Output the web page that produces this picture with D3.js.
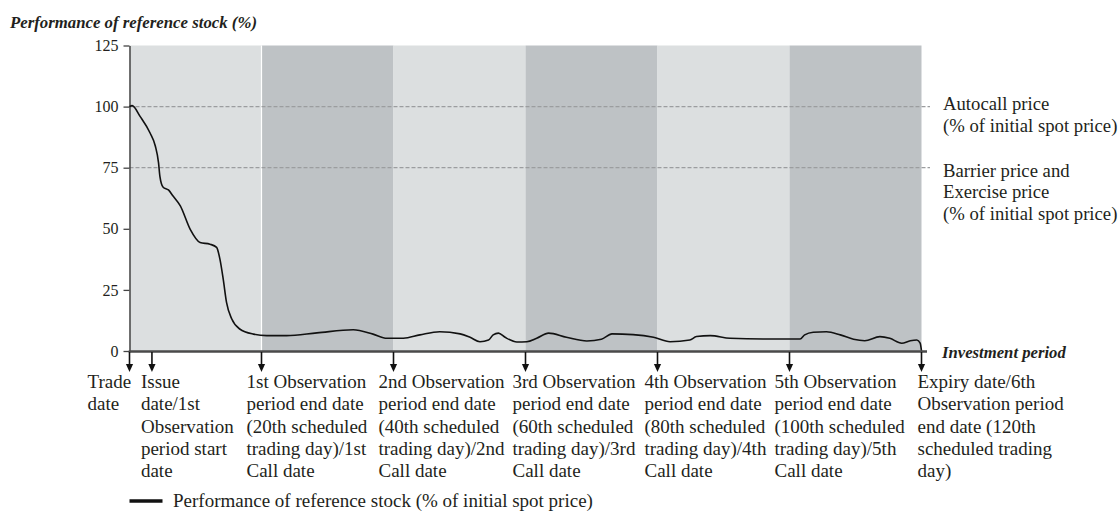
<!DOCTYPE html>
<html>
<head>
<meta charset="utf-8">
<script src="https://cdn.jsdelivr.net/npm/d3@7"></script>
<style>
  body { margin: 0; background: #fff; }
  svg { display: block; font-family: "Liberation Serif", "Times New Roman", serif; }
  svg text { font-family: "Liberation Serif", "Times New Roman", serif; }
</style>
</head>
<body>
<script>
// trading days of the events on the time axis
let eventDays = [0, 3.4, 20, 40, 60, 80, 100, 120];
let eventLabels = [
  ["Trade", "date"],
  ["Issue", "date/1st", "Observation", "period start", "date"],
  ["1st Observation", "period end date", "(20th scheduled", "trading day)/1st", "Call date"],
  ["2nd Observation", "period end date", "(40th scheduled", "trading day)/2nd", "Call date"],
  ["3rd Observation", "period end date", "(60th scheduled", "trading day)/3rd", "Call date"],
  ["4th Observation", "period end date", "(80th scheduled", "trading day)/4th", "Call date"],
  ["5th Observation", "period end date", "(100th scheduled", "trading day)/5th", "Call date"],
  ["Expiry date/6th", "Observation period", "end date (120th", "scheduled trading", "day)"]
];

// observation periods (shaded bands)
let periodStarts = [0, 20, 40, 60, 80, 100];
let periodEnds = [20, 40, 60, 80, 100, 120];
let periodShade = ["light", "dark", "light", "dark", "light", "dark"];

// reference levels
let levelValues = [100, 75];
let levelLabels = [
  ["Autocall price", "(% of initial spot price)"],
  ["Barrier price and", "Exercise price", "(% of initial spot price)"]
];

let yTicks = [0, 25, 50, 75, 100, 125];

// performance of reference stock (% of initial spot)
let perfDays = [0, 0.4, 1.6, 3.1, 3.9, 4.4, 4.6, 5.1, 5.9, 6.6, 7.7, 9.2, 10.7, 12.2, 13.2, 13.7, 14.2, 14.7,
  15.5, 16.7, 18.8, 20.8, 23.8, 28.4, 33.9, 36.9, 39.0, 41.5, 44.0, 47.0, 50.1, 51.6, 53.1, 54.4, 55.1,
  55.9, 56.9, 58.7, 60.2, 61.7, 63.5, 66.2, 69.3, 71.5, 73.1, 76.3, 79.4, 81.9, 84.9, 85.9, 88.0, 91.0,
  96.0, 101.6, 102.3, 103.6, 105.6, 107.7, 109.7, 111.4, 113.7, 115.2, 117.0, 118.3, 119.3, 119.8, 120];
let perfValues = [100, 100.4, 96, 89.3, 84, 77, 71.6, 67, 65.9, 63.4, 59.4, 49.8, 44.4, 43.7, 42.4, 37.6, 29.4, 19.9,
  13.1, 9, 6.9, 6.3, 6.3, 7.4, 8.7, 6.9, 5.2, 5.2, 6.6, 7.9, 7.0, 5.6, 3.8, 4.5, 6.6,
  7.3, 5.6, 3.7, 3.8, 5.2, 7.3, 5.6, 4.1, 4.8, 7.0, 6.7, 5.6, 3.8, 4.5, 5.9, 6.3, 5.2,
  4.9, 4.9, 6.6, 7.7, 7.9, 6.6, 4.8, 4.2, 5.9, 5.2, 3.2, 4.2, 4.5, 3.2, 0];

let width = 1119,
  height = 511;

let x = d3.scaleLinear().domain([0, 120]).range([129.5, 921.5]);
let y = d3.scaleLinear().domain([0, 125]).range([351, 45.5]);

let colors = { light: "#dcdfe0", dark: "#bec2c5" };
let ink = "#231f20";

let svg = d3.select("body").append("svg")
  .attr("width", width)
  .attr("height", height);

// title
svg.append("text")
  .attr("x", 10)
  .attr("y", 28)
  .attr("font-size", "16.8px")
  .attr("font-weight", "bold")
  .attr("font-style", "italic")
  .attr("fill", ink)
  .text("Performance of reference stock (%)");

// bands
svg.append("g").selectAll("rect")
  .data(periodStarts)
  .enter().append("rect")
  .attr("x", d => x(d))
  .attr("y", y(125))
  .attr("width", (d, i) => x(periodEnds[i]) - x(d))
  .attr("height", y(0) - y(125))
  .attr("fill", (d, i) => colors[periodShade[i]]);

// thin white border at the end of the first period
svg.append("line")
  .attr("x1", x(periodEnds[0])).attr("x2", x(periodEnds[0]))
  .attr("y1", y(125)).attr("y2", y(0))
  .attr("stroke", "#fff")
  .attr("stroke-width", 1.2);

// dashed reference levels
svg.append("g").selectAll("line")
  .data(levelValues)
  .enter().append("line")
  .attr("x1", x(0))
  .attr("x2", 930)
  .attr("y1", d => y(d))
  .attr("y2", d => y(d))
  .attr("stroke", "#9b9d9f")
  .attr("stroke-width", 1.2)
  .attr("stroke-dasharray", "4,2");

// level annotations
let levelOffsets = [3.5, 9];
levelValues.forEach((v, i) => {
  let t = svg.append("text")
    .attr("x", 943)
    .attr("y", y(v) + levelOffsets[i])
    .attr("font-size", "18.7px")
    .attr("fill", ink);
  levelLabels[i].forEach((l, j) => {
    t.append("tspan").attr("x", 943).attr("dy", j ? 21.5 : 0).text(l);
  });
});

// y axis
let yAxis = svg.append("g")
  .attr("transform", `translate(${x(0)},0)`)
  .call(d3.axisLeft(y).tickValues(yTicks).tickSize(6).tickSizeOuter(0).tickPadding(5));
yAxis.attr("font-family", null);
yAxis.select(".domain").attr("stroke", "#444").attr("stroke-width", 1.5);
yAxis.selectAll(".tick line").attr("stroke", "#444").attr("stroke-width", 1.3);
yAxis.selectAll(".tick text")
  .style("font-family", "'Liberation Serif', serif")
  .attr("font-size", "16px")
  .attr("fill", ink);

// performance line
let line = d3.line()
  .x(d => x(d[0]))
  .y(d => y(d[1]))
  .curve(d3.curveMonotoneX);

svg.append("path")
  .datum(perfDays.map((d, i) => [d, perfValues[i]]))
  .attr("d", line)
  .attr("fill", "none")
  .attr("stroke", "#111")
  .attr("stroke-width", 1.6);

// x axis (investment period)
svg.append("line")
  .attr("x1", x(0) - 0.75)
  .attr("x2", 927)
  .attr("y1", y(0) + 0.5)
  .attr("y2", y(0) + 0.5)
  .attr("stroke", "#4a4a4a")
  .attr("stroke-width", 2.5);

svg.append("text")
  .attr("x", 942)
  .attr("y", y(0) + 7)
  .attr("font-size", "16.7px")
  .attr("font-weight", "bold")
  .attr("font-style", "italic")
  .attr("fill", ink)
  .text("Investment period");

// event arrows
let arrows = svg.append("g").selectAll("g")
  .data(eventDays)
  .enter().append("g")
  .attr("transform", d => `translate(${x(d)},${y(0)})`);

arrows.append("line")
  .attr("y1", 1)
  .attr("y2", 14)
  .attr("stroke", "#111")
  .attr("stroke-width", 1.6);

arrows.append("path")
  .attr("d", "M-3.6,13L3.6,13L0,21Z")
  .attr("fill", "#111");

// event labels
let labelOffsets = [-42, -11, -15, -15, -13, -13, -15, -4];
eventDays.forEach((d, i) => {
  let t = svg.append("text")
    .attr("x", x(d) + labelOffsets[i])
    .attr("y", 388)
    .attr("font-size", "19px")
    .attr("fill", ink);
  eventLabels[i].forEach((l, j) => {
    t.append("tspan").attr("x", x(d) + labelOffsets[i]).attr("dy", j ? 22.3 : 0).text(l);
  });
});

// legend
svg.append("line")
  .attr("x1", x(0))
  .attr("x2", x(0) + 33)
  .attr("y1", 501)
  .attr("y2", 501)
  .attr("stroke", "#111")
  .attr("stroke-width", 3.5);

svg.append("text")
  .attr("x", 173)
  .attr("y", 507)
  .attr("font-size", "19px")
  .attr("fill", ink)
  .text("Performance of reference stock (% of initial spot price)");
</script>
</body>
</html>
